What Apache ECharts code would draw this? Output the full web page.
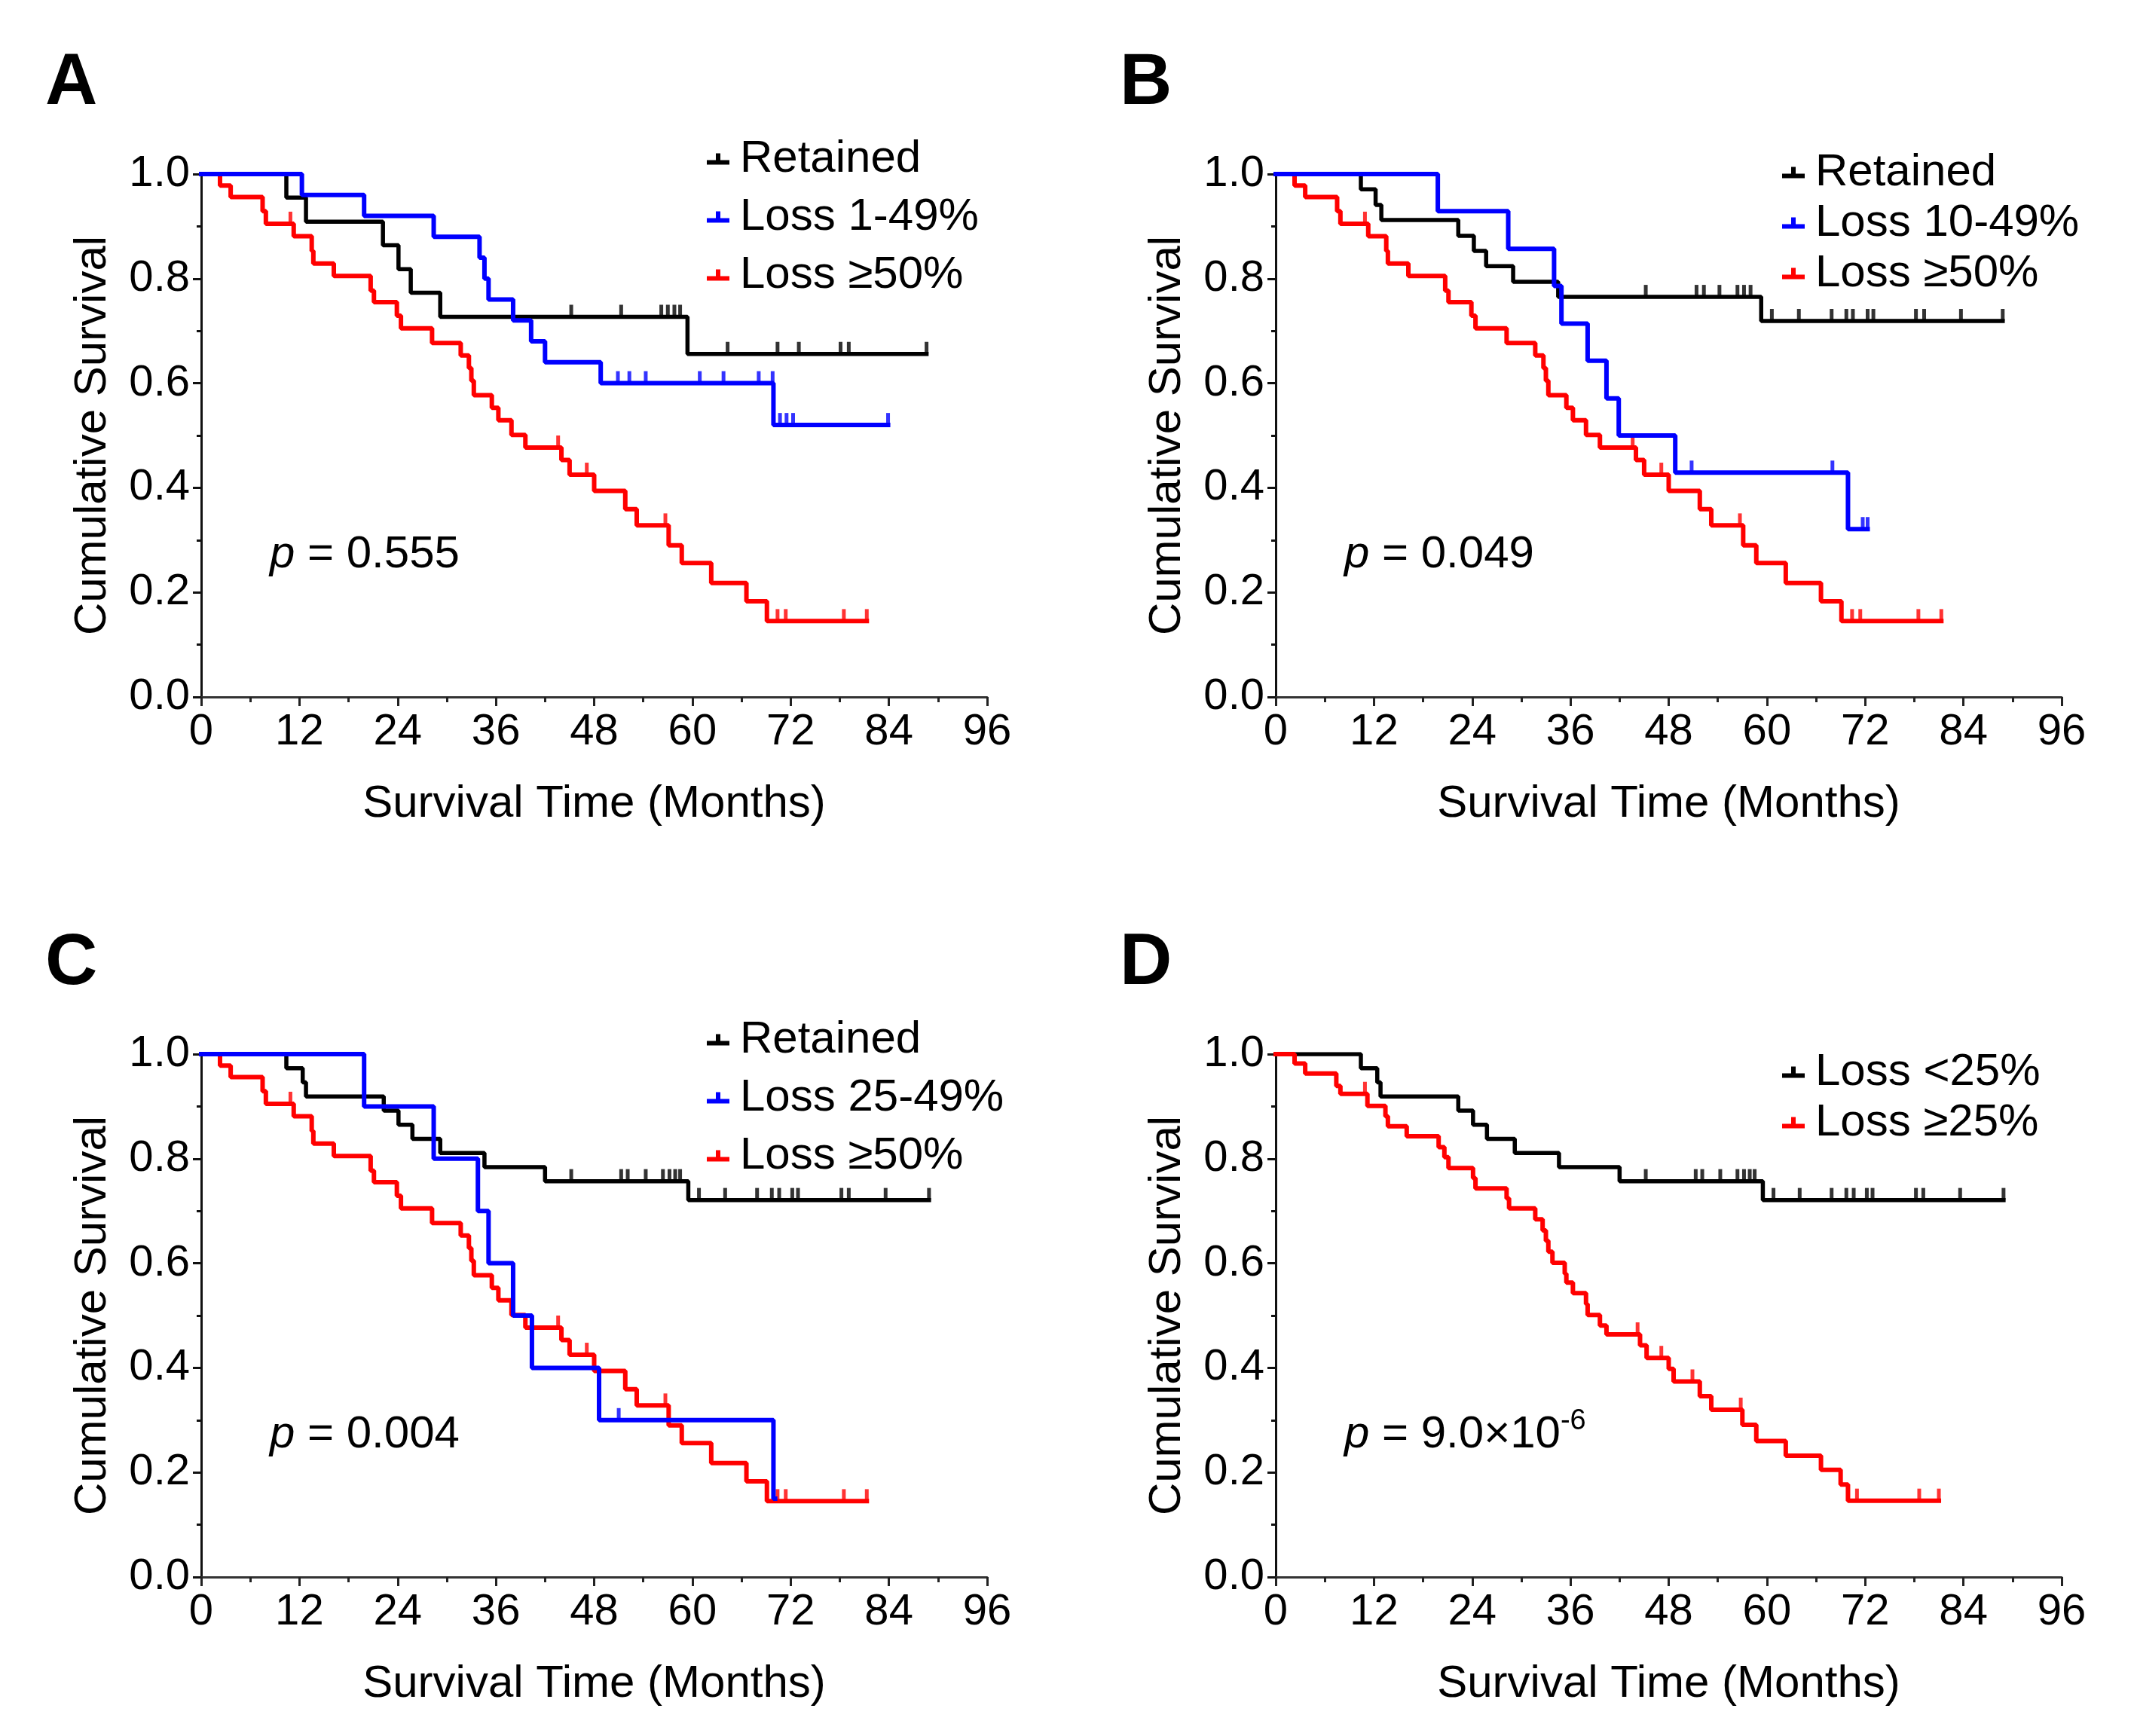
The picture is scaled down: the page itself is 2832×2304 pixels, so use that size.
<!DOCTYPE html>
<html><head><meta charset="utf-8">
<script src="https://cdn.jsdelivr.net/npm/echarts@6/dist/echarts.min.js"></script>
<style>html,body{margin:0;padding:0;background:#fff}#c{width:2832px;height:2304px}</style>
</head><body><div id="c"></div>
<script>
// ---------- DATA (months, cumulative survival) ----------
// Panel A
const A_ret_t = [10.4,12.8,22.2,24.1,25.6,29.2,59.4];
const A_ret_s = [0.955,0.909,0.864,0.818,0.773,0.727,0.656];
const A_ret_c = [45.2,51.3,56.2,57.0,57.8,58.5,64.3,70.4,73.0,78.1,79.1,88.6];
const A_ret_end = 88.6;

const A_blue_t = [12.3,19.9,28.4,34.0,34.6,35.1,38.1,40.3,42.0,48.8,69.9];
const A_blue_s = [0.96,0.92,0.88,0.84,0.80,0.76,0.72,0.68,0.64,0.60,0.52];
const A_blue_c = [50.9,52.3,54.3,60.9,63.8,68.1,69.8,70.7,71.5,72.3,83.9];
const A_blue_end = 83.9;

// Loss >=50% (same group in panels A, B, C)
const L50_t = [2.3,3.6,7.5,7.9,11.3,13.5,13.7,16.2,20.7,21.1,23.9,24.4,28.2,31.7,32.7,33.0,33.3,35.5,36.3,37.9,39.6,44.0,45.0,48.0,51.8,53.2,57.1,58.7,62.3,66.6,69.1];
const L50_s = [0.978,0.956,0.929,0.905,0.881,0.853,0.829,0.805,0.777,0.755,0.729,0.705,0.677,0.653,0.629,0.605,0.577,0.553,0.529,0.501,0.477,0.453,0.425,0.394,0.359,0.328,0.290,0.256,0.218,0.183,0.145];
const L50_c = [10.9,43.6,47.1,56.7,70.4,71.4,78.5,81.3];
const L50_end = 81.3;

// Panel B
const B_ret_t = [10.4,12.2,12.9,22.3,24.2,25.7,29.0,34.5,59.3];
const B_ret_s = [0.971,0.941,0.912,0.882,0.853,0.824,0.794,0.765,0.719];
const B_ret_c = [45.2,51.4,52.3,54.2,56.4,57.2,58.0,60.6,63.9,67.9,69.7,70.5,72.3,73.0,78.2,79.2,83.7,88.8];
const B_ret_end = 88.8;

const B_blue_t = [19.8,28.4,34.0,34.9,38.1,40.4,41.9,48.8,69.9];
const B_blue_s = [0.929,0.857,0.786,0.714,0.643,0.571,0.50,0.429,0.321];
const B_blue_c = [50.8,68.0,71.7,72.3];
const B_blue_end = 72.3;

// Panel C / D: Retained = Loss <25%
const L25lo_t = [10.4,12.4,12.8,22.3,24.1,25.8,29.2,34.6,42.0,59.5];
const L25lo_s = [0.973,0.946,0.919,0.892,0.865,0.838,0.811,0.784,0.757,0.721];
const L25lo_c = [45.2,51.3,52.1,54.3,56.4,57.2,57.9,58.5,60.8,64.0,67.9,69.7,70.6,72.2,72.9,78.2,79.1,83.6,88.9];
const L25lo_end = 88.9;

const C_blue_t = [19.9,28.4,33.8,35.1,38.1,40.4,48.6,69.9];
const C_blue_s = [0.9,0.8,0.7,0.6,0.5,0.4,0.3,0.15];
const C_blue_c = [51.0];
const C_blue_end = 70.1;

// Panel D: Loss >=25%
const L25hi_t = [2.3,3.6,7.4,7.9,11.2,13.4,13.7,16.0,19.9,20.6,21.1,24.1,24.4,28.2,28.5,31.7,32.6,33.0,33.3,33.8,35.3,35.5,36.3,37.9,38.1,39.6,40.4,44.5,45.3,48.0,48.6,51.8,53.2,57.0,58.7,62.3,66.6,69.0,69.9];
const L25hi_s = [0.982,0.963,0.939,0.924,0.901,0.881,0.862,0.843,0.822,0.803,0.782,0.763,0.743,0.724,0.705,0.684,0.663,0.643,0.622,0.601,0.580,0.563,0.543,0.522,0.501,0.481,0.464,0.443,0.419,0.398,0.374,0.346,0.320,0.291,0.260,0.232,0.205,0.177,0.146];
const L25hi_c = [10.9,44.2,47.1,50.9,56.8,71.0,78.6,81.0];
const L25hi_end = 81.0;

const panelLetters = ['A','B','C','D'];
const pTexts = ['{i|p} = 0.555','{i|p} = 0.049','{i|p} = 0.004','{i|p} = 9.0×10{sup|-6}'];
const xTitle = 'Survival Time (Months)';
const yTitle = 'Cumulative Survival';

// ---------- helpers ----------
const FONT = '"Liberation Sans", Arial, sans-serif';
const BLACK = '#000000', BLUE = '#0000ff', RED = '#ff0000';
function km(t, s, end) {
  const d = [[0, 1]];
  t.forEach((x, i) => d.push([x, s[i]]));
  d.push([end, s[s.length - 1]]);
  return d;
}
function survAt(t, s, x) { let v = 1; for (let i = 0; i < t.length; i++) if (t[i] <= x) v = s[i]; return v; }

const panels = [
  { grid: {left: 267, top: 231}, legendTop: 175, legendLeft: 933, legendGap: 15,
    groups: [
      {name: 'Retained', color: BLACK, t: A_ret_t, s: A_ret_s, c: A_ret_c, end: A_ret_end, w: 5.5},
      {name: 'Loss 1-49%', color: BLUE, t: A_blue_t, s: A_blue_s, c: A_blue_c, end: A_blue_end, w: 6},
      {name: 'Loss ≥50%', color: RED, t: L50_t, s: L50_s, c: L50_c, end: L50_end, w: 6}]},
  { grid: {left: 1693, top: 231}, legendTop: 193, legendLeft: 2360, legendGap: 5,
    groups: [
      {name: 'Retained', color: BLACK, t: B_ret_t, s: B_ret_s, c: B_ret_c, end: B_ret_end, w: 5.5},
      {name: 'Loss 10-49%', color: BLUE, t: B_blue_t, s: B_blue_s, c: B_blue_c, end: B_blue_end, w: 6},
      {name: 'Loss ≥50%', color: RED, t: L50_t, s: L50_s, c: L50_c, end: L50_end, w: 6}]},
  { grid: {left: 267, top: 1399}, legendTop: 1344, legendLeft: 933, legendGap: 15,
    groups: [
      {name: 'Retained', color: BLACK, t: L25lo_t, s: L25lo_s, c: L25lo_c, end: L25lo_end, w: 5.5},
      {name: 'Loss 25-49%', color: BLUE, t: C_blue_t, s: C_blue_s, c: C_blue_c, end: C_blue_end, w: 6},
      {name: 'Loss ≥50%', color: RED, t: L50_t, s: L50_s, c: L50_c, end: L50_end, w: 6}]},
  { grid: {left: 1693, top: 1399}, legendTop: 1387, legendLeft: 2360, legendGap: 5,
    groups: [
      {name: 'Loss <25%', color: BLACK, t: L25lo_t, s: L25lo_s, c: L25lo_c, end: L25lo_end, w: 5.5},
      {name: 'Loss ≥25%', color: RED, t: L25hi_t, s: L25hi_s, c: L25hi_c, end: L25hi_end, w: 6}]}
];

const GW = 1043, GH = 694;
const ICON = 'path://M0,9H30V15H0Z M12,0H18V9H12Z';
const grids = [], xAxes = [], yAxes = [], series = [], legends = [], graphics = [];

panels.forEach((p, g) => {
  grids.push({left: p.grid.left, top: p.grid.top, width: GW, height: GH, containLabel: false});
  xAxes.push({
    type: 'value', gridIndex: g, min: 0, max: 96, interval: 12,
    name: xTitle, nameLocation: 'middle', nameGap: 112,
    nameTextStyle: {fontSize: 60, fontFamily: FONT, color: '#000'},
    axisLine: {show: true, onZero: false, lineStyle: {color: '#333', width: 3}},
    axisTick: {show: true, length: 12, lineStyle: {color: '#222', width: 3}},
    minorTick: {show: true, splitNumber: 2, length: 7, lineStyle: {color: '#222', width: 3}},
    axisLabel: {fontSize: 58, fontFamily: FONT, color: '#000', margin: 18},
    splitLine: {show: false}
  });
  yAxes.push({
    type: 'value', gridIndex: g, min: 0, max: 1, interval: 0.2,
    name: yTitle, nameLocation: 'middle', nameGap: 114,
    nameTextStyle: {fontSize: 60, fontFamily: FONT, color: '#000'},
    axisLine: {show: true, onZero: false, lineStyle: {color: '#111', width: 3}},
    axisTick: {show: true, length: 11, lineStyle: {color: '#111', width: 3}},
    minorTick: {show: true, splitNumber: 2, length: 6, lineStyle: {color: '#111', width: 3}},
    axisLabel: {fontSize: 58, fontFamily: FONT, color: '#000', margin: 15, formatter: v => v.toFixed(1)},
    splitLine: {show: false}
  });
  const order = p.groups.length === 3 ? [0, 2, 1] : [0, 1];
  order.forEach((k, zi) => {
    const gr = p.groups[k];
    series.push({
      type: 'line', name: gr.name, xAxisIndex: g, yAxisIndex: g,
      data: km(gr.t, gr.s, gr.end), step: 'end', showSymbol: false, symbol: 'none',
      lineStyle: {color: gr.color, width: gr.w, cap: 'square'}, itemStyle: {color: gr.color},
      z: 3 + zi, silent: true
    });
    series.push({
      type: 'scatter', name: gr.name + ' censored', xAxisIndex: g, yAxisIndex: g,
      data: gr.c.map(x => [x, survAt(gr.t, gr.s, x)]),
      symbol: 'rect', symbolSize: [5, 16], symbolOffset: [0, -8],
      itemStyle: {color: gr.color}, z: 3 + zi, silent: true
    });
  });
  legends.push({
    orient: 'vertical', left: p.legendLeft, top: p.legendTop, itemGap: p.legendGap,
    data: p.groups.map(gr => gr.name), icon: ICON, itemWidth: 30, itemHeight: 15,
    selectedMode: false,
    textStyle: {fontSize: 60, fontFamily: FONT, color: '#000', lineHeight: 62, padding: [0, 0, 0, 9]}
  });
  // panel letter
  graphics.push({type: 'text', x: p.grid.left - 207, y: p.grid.top - 119,
    style: {text: panelLetters[g], fontSize: 96, fontWeight: 'bold', fontFamily: FONT, fill: '#000', align: 'left', verticalAlign: 'middle'}});
  // p value
  graphics.push({type: 'text', x: p.grid.left + 91, y: p.grid.top + 505,
    style: {text: pTexts[g], fontSize: 60, fontFamily: FONT, fill: '#000', align: 'left', verticalAlign: 'middle',
      rich: {i: {fontStyle: 'italic', fontSize: 60, fontFamily: FONT},
             sup: {fontSize: 38, fontFamily: FONT, padding: [0, 0, 34, 0]}}}});
});

const chart = echarts.init(document.getElementById('c'), null, {renderer: 'canvas'});
chart.setOption({
  backgroundColor: '#ffffff', animation: false,
  grid: grids, xAxis: xAxes, yAxis: yAxes, series: series, legend: legends, graphic: graphics
});
</script></body></html>
